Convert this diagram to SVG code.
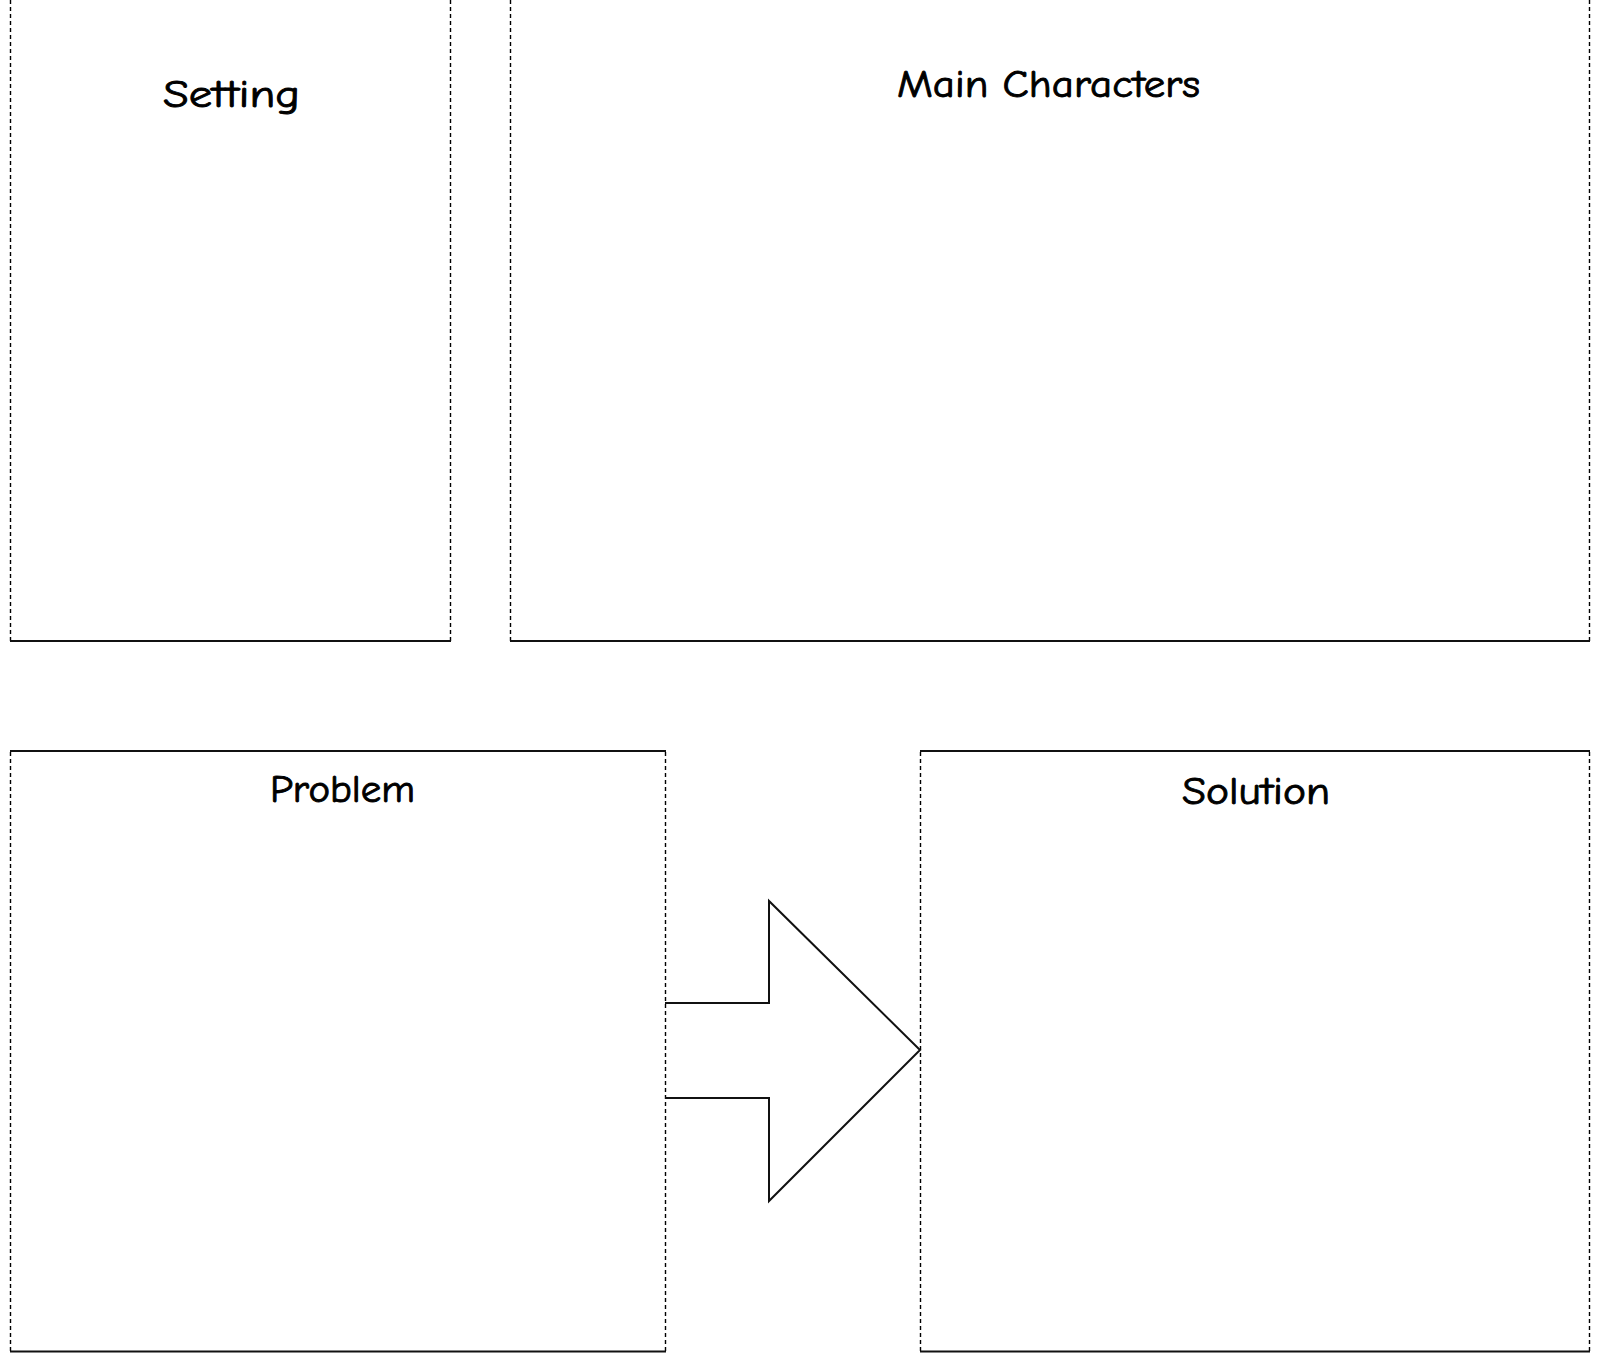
<svg xmlns="http://www.w3.org/2000/svg" width="1600" height="1353" viewBox="0 0 1600 1353">
<style>
.dash{stroke:#000;stroke-width:1.4;stroke-dasharray:4 3;fill:none}
.solid{stroke:#111;stroke-width:2;fill:none}
.lbl{font-family:"Comic Sans MS","Comic Neue","DejaVu Sans",sans-serif;font-size:38px;fill:#000;stroke:#000;stroke-width:0.9}
</style>
<rect width="1600" height="1353" fill="#fff"/>
<g id="setting">
<line class="dash" x1="10.5" y1="0" x2="10.5" y2="641"/>
<line class="dash" x1="450.5" y1="0" x2="450.5" y2="641"/>
<line class="solid" x1="10" y1="641" x2="451" y2="641"/>
<text class="lbl" x="163" y="107" textLength="137" lengthAdjust="spacingAndGlyphs">Setting</text>
</g>
<g id="main-characters">
<line class="dash" x1="510.5" y1="0" x2="510.5" y2="641"/>
<line class="dash" x1="1589.5" y1="0" x2="1589.5" y2="641"/>
<line class="solid" x1="510" y1="641" x2="1590" y2="641"/>
<text class="lbl" x="897" y="97" textLength="303" lengthAdjust="spacingAndGlyphs">Main Characters</text>
</g>
<g id="problem">
<line class="solid" x1="10" y1="751" x2="666" y2="751"/>
<line class="dash" x1="10.5" y1="752" x2="10.5" y2="1351"/>
<line class="dash" x1="665.5" y1="752" x2="665.5" y2="1351"/>
<line class="solid" x1="10" y1="1351.5" x2="666" y2="1351.5"/>
<text class="lbl" x="270" y="802" textLength="145" lengthAdjust="spacingAndGlyphs">Problem</text>
</g>
<g id="solution">
<line class="solid" x1="920" y1="751" x2="1590" y2="751"/>
<line class="dash" x1="920.5" y1="752" x2="920.5" y2="1351"/>
<line class="dash" x1="1589.5" y1="752" x2="1589.5" y2="1351"/>
<line class="solid" x1="920" y1="1351.5" x2="1590" y2="1351.5"/>
<text class="lbl" x="1182" y="804" textLength="148" lengthAdjust="spacingAndGlyphs">Solution</text>
</g>
<g id="connectors">
<polyline class="solid" stroke-width="1.8" points="665,1003 769,1003 769,901 920,1050 769,1201 769,1098 665,1098"/>
</g>
</svg>
